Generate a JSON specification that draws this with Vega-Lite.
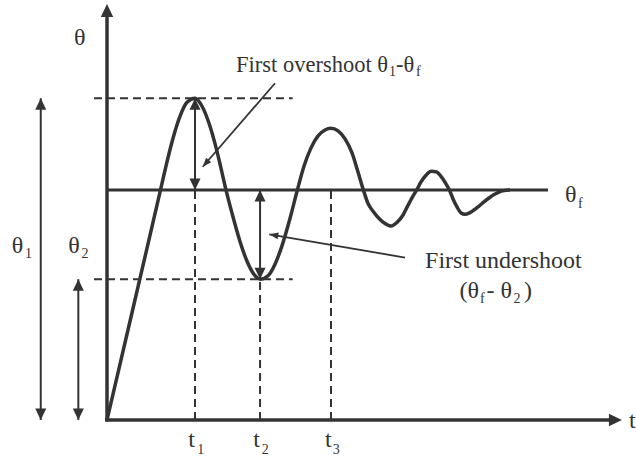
{
  "$schema": "https://vega.github.io/schema/vega-lite/v6.json",
  "width": 636,
  "height": 459,
  "padding": 0,
  "autosize": {"type": "none"},
  "background": "white",
  "config": {"view": {"stroke": null}},
  "datasets": {
    "curve": [
      {"t": 0, "th": 0}, {"t": 0.307, "th": 0.504}, {"t": 0.608, "th": 1.0}, {"t": 0.67, "th": 1.104},
      {"t": 0.75, "th": 1.225}, {"t": 0.83, "th": 1.321}, {"t": 0.909, "th": 1.381}, {"t": 1.0, "th": 1.399},
      {"t": 1.08, "th": 1.364}, {"t": 1.159, "th": 1.29}, {"t": 1.239, "th": 1.184}, {"t": 1.295, "th": 1.095},
      {"t": 1.352, "th": 1.0}, {"t": 1.432, "th": 0.882}, {"t": 1.511, "th": 0.776}, {"t": 1.591, "th": 0.69},
      {"t": 1.67, "th": 0.633}, {"t": 1.739, "th": 0.612}, {"t": 1.83, "th": 0.627}, {"t": 1.909, "th": 0.677},
      {"t": 1.989, "th": 0.758}, {"t": 2.08, "th": 0.877}, {"t": 2.163, "th": 1.0}, {"t": 2.239, "th": 1.104},
      {"t": 2.318, "th": 1.183}, {"t": 2.398, "th": 1.235}, {"t": 2.477, "th": 1.261}, {"t": 2.545, "th": 1.268},
      {"t": 2.625, "th": 1.257}, {"t": 2.705, "th": 1.222}, {"t": 2.784, "th": 1.161}, {"t": 2.852, "th": 1.078},
      {"t": 2.913, "th": 1.0}, {"t": 2.966, "th": 0.941}, {"t": 3.023, "th": 0.907}, {"t": 3.091, "th": 0.876},
      {"t": 3.159, "th": 0.854}, {"t": 3.227, "th": 0.843}, {"t": 3.295, "th": 0.859}, {"t": 3.364, "th": 0.891},
      {"t": 3.42, "th": 0.933}, {"t": 3.472, "th": 0.97}, {"t": 3.519, "th": 1.0}, {"t": 3.568, "th": 1.035},
      {"t": 3.625, "th": 1.064}, {"t": 3.682, "th": 1.081}, {"t": 3.739, "th": 1.079}, {"t": 3.795, "th": 1.059},
      {"t": 3.847, "th": 1.03}, {"t": 3.89, "th": 1.0}, {"t": 3.932, "th": 0.961}, {"t": 3.977, "th": 0.926},
      {"t": 4.023, "th": 0.9}, {"t": 4.068, "th": 0.894}, {"t": 4.114, "th": 0.899}, {"t": 4.17, "th": 0.913},
      {"t": 4.227, "th": 0.93}, {"t": 4.284, "th": 0.948}, {"t": 4.341, "th": 0.965}, {"t": 4.398, "th": 0.98},
      {"t": 4.455, "th": 0.991}, {"t": 4.511, "th": 0.997}, {"t": 4.58, "th": 1.0}
    ],
    "steady": [{"t": 0, "th": 1.0, "t2": 5.011, "th2": 1.0}],
    "guides": [
      {"t": -0.148, "th": 1.399, "t2": 2.11, "th2": 1.399},
      {"t": -0.148, "th": 0.612, "t2": 2.11, "th2": 0.612},
      {"t": 1.0, "th": 0, "t2": 1.0, "th2": 1.0},
      {"t": 1.739, "th": 0, "t2": 1.739, "th2": 0.612},
      {"t": 2.545, "th": 0, "t2": 2.545, "th2": 1.0}
    ],
    "axes": [
      {"t": 0, "th": -0.007, "t2": 0, "th2": 1.78},
      {"t": -0.02, "th": 0, "t2": 5.78, "th2": 0}
    ],
    "axisHeads": [
      {"t": 0, "th": 1.809, "bearing": 0},
      {"t": 5.851, "th": 0, "bearing": 90}
    ],
    "dims": [
      {"t": 1.0, "th": 1.0, "t2": 1.0, "th2": 1.399},
      {"t": 1.739, "th": 0.612, "t2": 1.739, "th2": 1.0},
      {"t": -0.753, "th": 0, "t2": -0.753, "th2": 1.399},
      {"t": -0.326, "th": 0, "t2": -0.326, "th2": 0.612}
    ],
    "dimHeads": [
      {"t": 1.0, "th": 1.399, "bearing": 0}, {"t": 1.0, "th": 1.0, "bearing": 180},
      {"t": 1.739, "th": 1.0, "bearing": 0}, {"t": 1.739, "th": 0.612, "bearing": 180},
      {"t": -0.753, "th": 1.399, "bearing": 0}, {"t": -0.753, "th": 0, "bearing": 180},
      {"t": -0.326, "th": 0.612, "bearing": 0}, {"t": -0.326, "th": 0, "bearing": 180}
    ],
    "notes": [
      {"t": 1.909, "th": 1.464, "t2": 1.088, "th2": 1.101},
      {"t": 3.386, "th": 0.706, "t2": 1.844, "th2": 0.807}
    ],
    "noteHeads": [
      {"t": 1.088, "th": 1.101, "bearing": 221},
      {"t": 1.844, "th": 0.807, "bearing": 280}
    ],
    "overshootLabel": [
      {"t": 1.466, "th": 1.514, "text": "First overshoot θ"},
      {"t": 3.284, "th": 1.514, "text": "-θ"}
    ],
    "labels": [
      {"t": -0.375, "th": 1.63, "text": "θ"},
      {"t": 5.205, "th": 0.949, "text": "θ"},
      {"t": 3.614, "th": 0.66, "text": "First undershoot"},
      {"t": 4.006, "th": 0.529, "text": "(θ"},
      {"t": 4.313, "th": 0.529, "text": "- θ"},
      {"t": 4.739, "th": 0.529, "text": ")"},
      {"t": -1.083, "th": 0.725, "text": "θ"},
      {"t": -0.44, "th": 0.725, "text": "θ"},
      {"t": 0.924, "th": -0.119, "text": "t"},
      {"t": 1.663, "th": -0.119, "text": "t"},
      {"t": 2.477, "th": -0.119, "text": "t"},
      {"t": 5.932, "th": -0.035, "text": "t"}
    ],
    "subs": [
      {"t": 3.205, "th": 1.496, "text": "1"},
      {"t": 3.511, "th": 1.496, "text": "f"},
      {"t": 5.352, "th": 0.92, "text": "f"},
      {"t": 4.239, "th": 0.509, "text": "f"},
      {"t": 4.619, "th": 0.509, "text": "2"},
      {"t": -0.932, "th": 0.704, "text": "1"},
      {"t": -0.29, "th": 0.704, "text": "2"},
      {"t": 1.026, "th": -0.148, "text": "1"},
      {"t": 1.758, "th": -0.148, "text": "2"},
      {"t": 2.565, "th": -0.148, "text": "3"}
    ]
  },
  "layer": [
    {
      "data": {"name": "guides"},
      "mark": {"type": "rule", "color": "#333333", "strokeWidth": 2, "strokeDash": [8, 5]},
      "encoding": {
        "x": {"field": "t", "type": "quantitative", "scale": {"domain": [-1.216, 6.011], "nice": false, "zero": false}, "axis": null},
        "y": {"field": "th", "type": "quantitative", "scale": {"domain": [-0.17, 1.826], "nice": false, "zero": false}, "axis": null},
        "x2": {"field": "t2"},
        "y2": {"field": "th2"}
      }
    },
    {
      "data": {"name": "steady"},
      "mark": {"type": "rule", "color": "#333333", "strokeWidth": 3},
      "encoding": {
        "x": {"field": "t", "type": "quantitative", "scale": {"domain": [-1.216, 6.011], "nice": false, "zero": false}, "axis": null},
        "y": {"field": "th", "type": "quantitative", "scale": {"domain": [-0.17, 1.826], "nice": false, "zero": false}, "axis": null},
        "x2": {"field": "t2"},
        "y2": {"field": "th2"}
      }
    },
    {
      "data": {"name": "curve"},
      "mark": {"type": "line", "color": "#333333", "strokeWidth": 3.5, "interpolate": "monotone"},
      "encoding": {
        "x": {"field": "t", "type": "quantitative", "scale": {"domain": [-1.216, 6.011], "nice": false, "zero": false}, "axis": null},
        "y": {"field": "th", "type": "quantitative", "scale": {"domain": [-0.17, 1.826], "nice": false, "zero": false}, "axis": null}
      }
    },
    {
      "data": {"name": "axes"},
      "mark": {"type": "rule", "color": "#333333", "strokeWidth": 3.5},
      "encoding": {
        "x": {"field": "t", "type": "quantitative", "scale": {"domain": [-1.216, 6.011], "nice": false, "zero": false}, "axis": null},
        "y": {"field": "th", "type": "quantitative", "scale": {"domain": [-0.17, 1.826], "nice": false, "zero": false}, "axis": null},
        "x2": {"field": "t2"},
        "y2": {"field": "th2"}
      }
    },
    {
      "data": {"name": "dims"},
      "mark": {"type": "rule", "color": "#333333", "strokeWidth": 2},
      "encoding": {
        "x": {"field": "t", "type": "quantitative", "scale": {"domain": [-1.216, 6.011], "nice": false, "zero": false}, "axis": null},
        "y": {"field": "th", "type": "quantitative", "scale": {"domain": [-0.17, 1.826], "nice": false, "zero": false}, "axis": null},
        "x2": {"field": "t2"},
        "y2": {"field": "th2"}
      }
    },
    {
      "data": {"name": "notes"},
      "mark": {"type": "rule", "color": "#333333", "strokeWidth": 1.8},
      "encoding": {
        "x": {"field": "t", "type": "quantitative", "scale": {"domain": [-1.216, 6.011], "nice": false, "zero": false}, "axis": null},
        "y": {"field": "th", "type": "quantitative", "scale": {"domain": [-0.17, 1.826], "nice": false, "zero": false}, "axis": null},
        "x2": {"field": "t2"},
        "y2": {"field": "th2"}
      }
    },
    {
      "data": {"name": "axisHeads"},
      "mark": {"type": "point", "shape": "M0,0L0.48,1L-0.48,1Z", "size": 676, "filled": true, "color": "#333333", "opacity": 1, "strokeWidth": 0},
      "encoding": {
        "x": {"field": "t", "type": "quantitative", "scale": {"domain": [-1.216, 6.011], "nice": false, "zero": false}, "axis": null},
        "y": {"field": "th", "type": "quantitative", "scale": {"domain": [-0.17, 1.826], "nice": false, "zero": false}, "axis": null},
        "angle": {"field": "bearing", "type": "quantitative", "scale": null}
      }
    },
    {
      "data": {"name": "dimHeads"},
      "mark": {"type": "point", "shape": "M0,0L0.48,1L-0.48,1Z", "size": 529, "filled": true, "color": "#333333", "opacity": 1, "strokeWidth": 0},
      "encoding": {
        "x": {"field": "t", "type": "quantitative", "scale": {"domain": [-1.216, 6.011], "nice": false, "zero": false}, "axis": null},
        "y": {"field": "th", "type": "quantitative", "scale": {"domain": [-0.17, 1.826], "nice": false, "zero": false}, "axis": null},
        "angle": {"field": "bearing", "type": "quantitative", "scale": null}
      }
    },
    {
      "data": {"name": "noteHeads"},
      "mark": {"type": "point", "shape": "M0,0L0.38,1L-0.38,1Z", "size": 324, "filled": true, "color": "#333333", "opacity": 1, "strokeWidth": 0},
      "encoding": {
        "x": {"field": "t", "type": "quantitative", "scale": {"domain": [-1.216, 6.011], "nice": false, "zero": false}, "axis": null},
        "y": {"field": "th", "type": "quantitative", "scale": {"domain": [-0.17, 1.826], "nice": false, "zero": false}, "axis": null},
        "angle": {"field": "bearing", "type": "quantitative", "scale": null}
      }
    },
    {
      "data": {"name": "overshootLabel"},
      "mark": {"type": "text", "font": "Liberation Serif", "fontSize": 22.5, "color": "#333333", "align": "left", "baseline": "alphabetic"},
      "encoding": {
        "x": {"field": "t", "type": "quantitative", "scale": {"domain": [-1.216, 6.011], "nice": false, "zero": false}, "axis": null},
        "y": {"field": "th", "type": "quantitative", "scale": {"domain": [-0.17, 1.826], "nice": false, "zero": false}, "axis": null},
        "text": {"field": "text", "type": "nominal"}
      }
    },
    {
      "data": {"name": "labels"},
      "mark": {"type": "text", "font": "Liberation Serif", "fontSize": 24, "color": "#333333", "align": "left", "baseline": "alphabetic"},
      "encoding": {
        "x": {"field": "t", "type": "quantitative", "scale": {"domain": [-1.216, 6.011], "nice": false, "zero": false}, "axis": null},
        "y": {"field": "th", "type": "quantitative", "scale": {"domain": [-0.17, 1.826], "nice": false, "zero": false}, "axis": null},
        "text": {"field": "text", "type": "nominal"}
      }
    },
    {
      "data": {"name": "subs"},
      "mark": {"type": "text", "font": "Liberation Serif", "fontSize": 14, "color": "#333333", "align": "left", "baseline": "alphabetic"},
      "encoding": {
        "x": {"field": "t", "type": "quantitative", "scale": {"domain": [-1.216, 6.011], "nice": false, "zero": false}, "axis": null},
        "y": {"field": "th", "type": "quantitative", "scale": {"domain": [-0.17, 1.826], "nice": false, "zero": false}, "axis": null},
        "text": {"field": "text", "type": "nominal"}
      }
    }
  ]
}
